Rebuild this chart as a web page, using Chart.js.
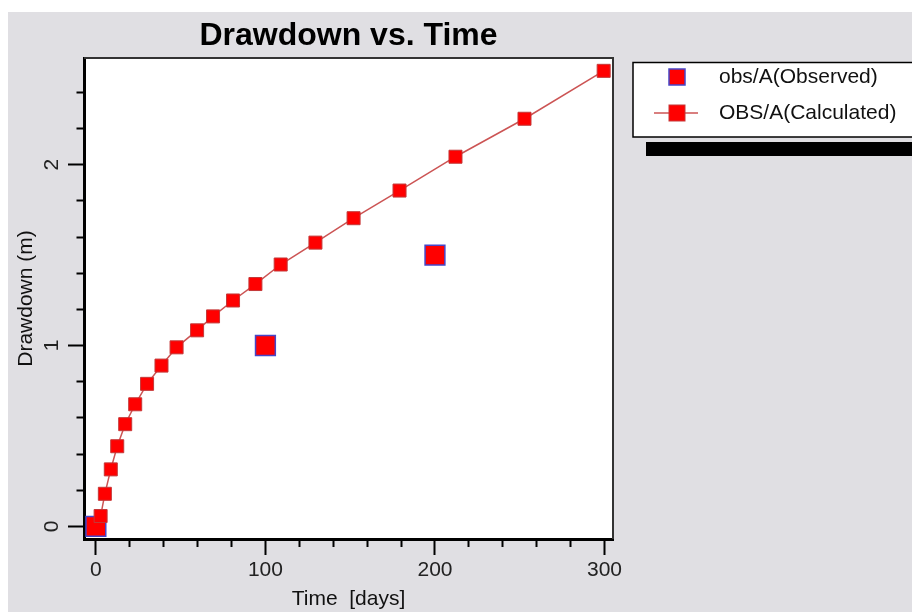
<!DOCTYPE html>
<html>
<head>
<meta charset="utf-8">
<script src="https://cdn.jsdelivr.net/npm/chart.js@4"></script>
<style>
html,body{margin:0;padding:0;background:#fff;width:912px;height:612px;overflow:hidden}
#bg{position:absolute;left:8px;top:12px;right:0;bottom:0;background:#e0dfe3}
#wrap{position:absolute;left:0;top:0;width:912px;height:612px}
</style>
</head>
<body>
<div id="bg"></div>
<div id="wrap"><canvas id="c" width="912" height="612"></canvas></div>
<script>
// ---- data ----
const chartTitle = 'Drawdown vs. Time';
const xAxisTitle = 'Time  [days]';
const yAxisTitle = 'Drawdown (m)';
const obsLabel = 'obs/A(Observed)';
const calcLabel = 'OBS/A(Calculated)';

const obsTime = [0, 100, 200];
const obsDrawdown = [0, 1.0, 1.5];

const calcTime = [2.8, 5.3, 8.8, 12.6, 17.3, 23.2, 30.2, 38.7, 47.6, 59.7, 69.1, 80.9, 94.1, 109.0, 129.5, 152.0, 179.1, 212.1, 252.8, 299.5];
const calcDrawdown = [0.057, 0.18, 0.315, 0.443, 0.565, 0.675, 0.788, 0.889, 0.99, 1.084, 1.161, 1.249, 1.340, 1.448, 1.569, 1.704, 1.857, 2.044, 2.254, 2.519];

const xTickLabels = [0, 100, 200, 300];
const yTickLabels = [0, 1, 2];

// ---- chart ----
const FONT = "'Liberation Sans', Arial, Helvetica, sans-serif";
Chart.defaults.font.family = FONT;
Chart.defaults.color = '#000';

const isMajor = (list, v) => list.some(t => Math.abs(t - v) < 1e-6);

const bgPlugin = {
  id: 'plotBg',
  beforeDraw(chart) {
    const {ctx, chartArea: a} = chart;
    ctx.save();
    ctx.fillStyle = '#ffffff';
    ctx.fillRect(a.left, a.top, a.right - a.left, a.bottom - a.top);
    ctx.restore();
  },
  afterDraw(chart) {
    const {ctx, chartArea: a} = chart;
    ctx.save();
    ctx.strokeStyle = '#333';
    ctx.lineWidth = 2;
    ctx.beginPath();
    ctx.moveTo(a.left, a.top);
    ctx.lineTo(a.right, a.top);
    ctx.lineTo(a.right, a.bottom);
    ctx.stroke();
    ctx.restore();
  }
};

const legendPlugin = {
  id: 'boxLegend',
  afterDraw(chart) {
    const {ctx, chartArea: a} = chart;
    const left = a.right + 20;
    const top = a.top + 4.5;
    const h = 74.5;
    ctx.save();
    // shadow bar
    ctx.fillStyle = '#000';
    ctx.fillRect(left + 13, top + h + 5, chart.width, 14);
    // box
    ctx.fillStyle = '#fff';
    ctx.fillRect(left, top, chart.width - left + 10, h);
    ctx.strokeStyle = '#000';
    ctx.lineWidth = 1.5;
    ctx.strokeRect(left, top, chart.width - left + 10, h);
    chart.data.datasets.forEach((ds, i) => {
      const cy = top + 14.5 + i * 36;
      const mx = left + 44;
      if (ds.showLine) {
        ctx.strokeStyle = ds.borderColor;
        ctx.lineWidth = ds.borderWidth;
        ctx.beginPath();
        ctx.moveTo(mx - 23, cy);
        ctx.lineTo(mx + 21, cy);
        ctx.stroke();
      }
      const s = 16;
      ctx.fillStyle = ds.pointBackgroundColor || ds.backgroundColor;
      ctx.fillRect(mx - s / 2, cy - s / 2, s, s);
      ctx.strokeStyle = ds.pointBorderColor || ds.borderColor;
      ctx.lineWidth = ds.pointBorderWidth != null ? ds.pointBorderWidth : ds.borderWidth;
      ctx.strokeRect(mx - s / 2, cy - s / 2, s, s);
      ctx.fillStyle = '#111';
      ctx.font = '21px ' + FONT;
      ctx.textBaseline = 'middle';
      ctx.textAlign = 'left';
      ctx.fillText(ds.label, left + 86, cy);
    });
    ctx.restore();
  }
};

new Chart(document.getElementById('c'), {
  type: 'scatter',
  data: {
    datasets: [
      {
        label: obsLabel,
        data: obsTime.map((x, i) => ({x: x, y: obsDrawdown[i]})),
        showLine: false,
        pointStyle: 'rect',
        pointRadius: 14,
        pointHoverRadius: 14,
        backgroundColor: '#ff0000',
        borderColor: '#4646c8',
        borderWidth: 1.5,
        order: 1
      },
      {
        label: calcLabel,
        data: calcTime.map((x, i) => ({x: x, y: calcDrawdown[i]})),
        showLine: true,
        tension: 0,
        borderColor: 'rgb(204,84,84)',
        borderWidth: 1.5,
        backgroundColor: '#ff0000',
        pointStyle: 'rect',
        pointRadius: 9.2,
        pointHoverRadius: 9.2,
        pointBackgroundColor: '#ff0000',
        pointBorderColor: 'rgb(196,56,56)',
        pointBorderWidth: 1,
        order: 0
      }
    ]
  },
  options: {
    responsive: false,
    animation: false,
    events: [],
    layout: {padding: {left: 0, right: 299, top: 0, bottom: 0}},
    plugins: {
      legend: {display: false},
      tooltip: {enabled: false},
      title: {
        display: true,
        text: chartTitle,
        fullSize: false,
        color: '#000',
        font: {size: 32, weight: 'bold', family: FONT},
        padding: {top: 16.8, bottom: 2.8}
      }
    },
    scales: {
      x: {
        type: 'linear',
        position: 'bottom',
        min: -7,
        max: 305,
        afterFit(s) { s.height = 73; },
        border: {display: true, color: '#000', width: 3},
        grid: {
          drawOnChartArea: false,
          drawTicks: true,
          tickLength: 16,
          tickColor: '#000',
          tickWidth: 2,
          tickBorderDash: (c) => isMajor(xTickLabels, c.tick ? c.tick.value : 0) ? [] : [6, 100]
        },
        ticks: {
          stepSize: 20,
          autoSkip: false,
          includeBounds: false,
          minRotation: 0,
          maxRotation: 0,
          padding: 3,
          color: '#222',
          font: {size: 21},
          callback: (v) => isMajor(xTickLabels, v) ? String(Math.round(v)) : ''
        },
        title: {
          display: true,
          text: xAxisTitle,
          color: '#111',
          font: {size: 21},
          padding: {top: 0, bottom: 0.4}
        }
      },
      y: {
        type: 'linear',
        position: 'left',
        min: -0.07,
        max: 2.59,
        afterFit(s) { s.width = 84; },
        border: {display: true, color: '#000', width: 3},
        grid: {
          drawOnChartArea: false,
          drawTicks: true,
          tickLength: 16,
          tickColor: '#000',
          tickWidth: 2,
          tickBorderDash: (c) => isMajor(yTickLabels, c.tick ? c.tick.value : 0) ? [] : [0, 8.5, 20, 100]
        },
        ticks: {
          stepSize: 0.2,
          autoSkip: false,
          includeBounds: false,
          minRotation: 90,
          maxRotation: 90,
          crossAlign: 'center',
          padding: 10,
          color: '#222',
          font: {size: 21},
          callback: (v) => isMajor(yTickLabels, v) ? String(Math.round(v)) : ''
        },
        title: {
          display: true,
          text: yAxisTitle,
          color: '#111',
          font: {size: 21},
          padding: {top: 13.4, bottom: 0}
        }
      }
    }
  },
  plugins: [bgPlugin, legendPlugin]
});
</script>
</body>
</html>
